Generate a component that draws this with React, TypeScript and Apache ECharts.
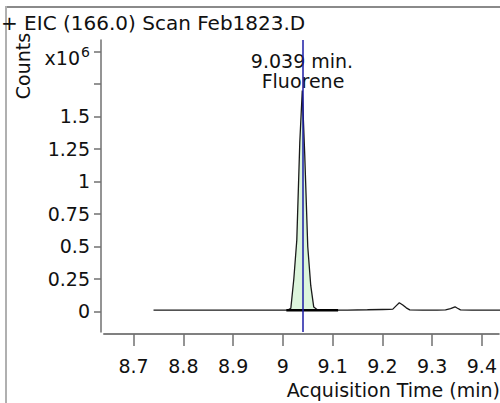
import React, { useEffect, useRef } from "react";
import * as echarts from "echarts";

// ---- data ----
const times = [
  8.74, 8.8, 8.86, 8.92, 8.97, 9.0, 9.01, 9.016, 9.022, 9.028, 9.034, 9.039,
  9.044, 9.05, 9.056, 9.062, 9.07, 9.09, 9.13, 9.17, 9.2, 9.214, 9.221, 9.228,
  9.234, 9.241, 9.248, 9.255, 9.28, 9.31, 9.327, 9.337, 9.346, 9.351, 9.357,
  9.38, 9.41, 9.44,
];
const counts = [
  0.011, 0.011, 0.011, 0.01, 0.01, 0.01, 0.011, 0.025, 0.25, 0.55, 1.3, 1.7,
  1.2, 0.5, 0.2, 0.035, 0.012, 0.011, 0.011, 0.013, 0.015, 0.016, 0.018, 0.045,
  0.067, 0.05, 0.028, 0.012, 0.011, 0.011, 0.012, 0.022, 0.036, 0.025, 0.012,
  0.011, 0.011, 0.011,
];
const peakRange = [9.016, 9.062];
const integrationBaseline = [
  [9.007, 0.009],
  [9.111, 0.009],
];
const markerTime = 9.041;
const peakLabel = ["9.039 min.", "Fluorene"];
const xTicks = [8.7, 8.8, 8.9, 9.0, 9.1, 9.2, 9.3, 9.4];
const yTicks = [0, 0.25, 0.5, 0.75, 1, 1.25, 1.5, 1.75, 2.0];
const yLabels = [0, 0.25, 0.5, 0.75, 1, 1.25, 1.5];
const titleText = "+ EIC (166.0) Scan Feb1823.D";
const xName = "Acquisition Time (min)";
const yName = "Counts";

const FONT = "DejaVu Sans";

export default function App() {
  const ref = useRef<HTMLDivElement>(null);
  useEffect(() => {
    if (!ref.current) return;
    const chart = echarts.init(ref.current, undefined, { renderer: "svg" });
    const lineData = times.map((t, i) => [t, counts[i]]);
    const peakData = lineData.filter(
      (p) => p[0] >= peakRange[0] && p[0] <= peakRange[1]
    );
    const fmt = (v: number) =>
      v.toFixed(2).replace(/0+$/, "").replace(/\.$/, "");
    chart.setOption({
      animation: false,
      grid: { left: 104, right: 0, top: 40, bottom: 71 },
      xAxis: {
        type: "value",
        min: 8.6405,
        max: 9.434,
        offset: 2,
        axisLine: { show: true, onZero: false, lineStyle: { color: "#808080", width: 2 } },
        axisTick: {
          show: true,
          length: 12,
          customValues: xTicks,
          lineStyle: { color: "#707070", width: 1.5 },
        },
        axisLabel: {
          customValues: xTicks,
          formatter: (v: number) => fmt(v),
          margin: 22,
          fontSize: 19,
          fontFamily: FONT,
          color: "#111",
        },
        splitLine: { show: false },
      },
      yAxis: {
        type: "value",
        min: -0.158,
        max: 2.088,
        offset: 3,
        axisLine: { show: true, onZero: false, lineStyle: { color: "#707070", width: 1.5 } },
        axisTick: {
          show: true,
          length: 7,
          customValues: yTicks,
          lineStyle: { color: "#707070", width: 1.5 },
        },
        axisLabel: {
          customValues: yLabels,
          formatter: (v: number) => fmt(v),
          margin: 11,
          fontSize: 19,
          fontFamily: FONT,
          color: "#111",
        },
        splitLine: { show: false },
      },
      series: [
        {
          type: "line",
          data: peakData,
          symbol: "none",
          lineStyle: { width: 0 },
          areaStyle: { color: "#dcf5dc", opacity: 1, origin: 0.009 },
          z: 1,
        },
        {
          type: "line",
          data: lineData,
          symbol: "none",
          lineStyle: { color: "#1a1a1a", width: 1.3 },
          z: 2,
        },
        {
          type: "line",
          data: integrationBaseline,
          symbol: "none",
          lineStyle: { color: "#000", width: 2.5 },
          z: 3,
          markLine: {
            silent: true,
            symbol: "none",
            label: { show: false },
            lineStyle: { color: "#1c1ca6", width: 1.5, type: "solid" },
            data: [{ xAxis: markerTime }],
          },
        },
      ],
      graphic: [
        { type: "line", shape: { x1: 5, y1: 7, x2: 500, y2: 7 }, style: { stroke: "#8a8a8a", lineWidth: 2 } },
        { type: "line", shape: { x1: 6, y1: 6, x2: 6, y2: 403 }, style: { stroke: "#b0b0b0", lineWidth: 2 } },
        {
          type: "text",
          x: 1,
          y: 23,
          style: { text: titleText, font: `20px '${FONT}'`, fill: "#111", textAlign: "left", textVerticalAlign: "middle" },
        },
        {
          type: "text",
          x: 23.4,
          y: 66,
          rotation: Math.PI / 2,
          style: { text: yName, font: `19px '${FONT}'`, fill: "#111", textAlign: "center", textVerticalAlign: "middle" },
        },
        {
          type: "text",
          x: 80,
          y: 57.5,
          style: { text: "x10", font: `19px '${FONT}'`, fill: "#111", textAlign: "right", textVerticalAlign: "middle" },
        },
        {
          type: "text",
          x: 81,
          y: 51.5,
          style: { text: "6", font: `14px '${FONT}'`, fill: "#111", textAlign: "left", textVerticalAlign: "middle" },
        },
        {
          type: "text",
          x: 302,
          y: 61.4,
          style: { text: peakLabel[0], font: `19px '${FONT}'`, fill: "#111", textAlign: "center", textVerticalAlign: "middle" },
        },
        {
          type: "text",
          x: 303,
          y: 81.4,
          style: { text: peakLabel[1], font: `19px '${FONT}'`, fill: "#111", textAlign: "center", textVerticalAlign: "middle" },
        },
        {
          type: "text",
          x: 500,
          y: 390.4,
          style: { text: xName, font: `19px '${FONT}'`, fill: "#111", textAlign: "right", textVerticalAlign: "middle" },
        },
      ],
    });
    return () => chart.dispose();
  }, []);
  return <div ref={ref} style={{ width: 500, height: 403, position: "absolute", left: 0, top: 0 }} />;
}
